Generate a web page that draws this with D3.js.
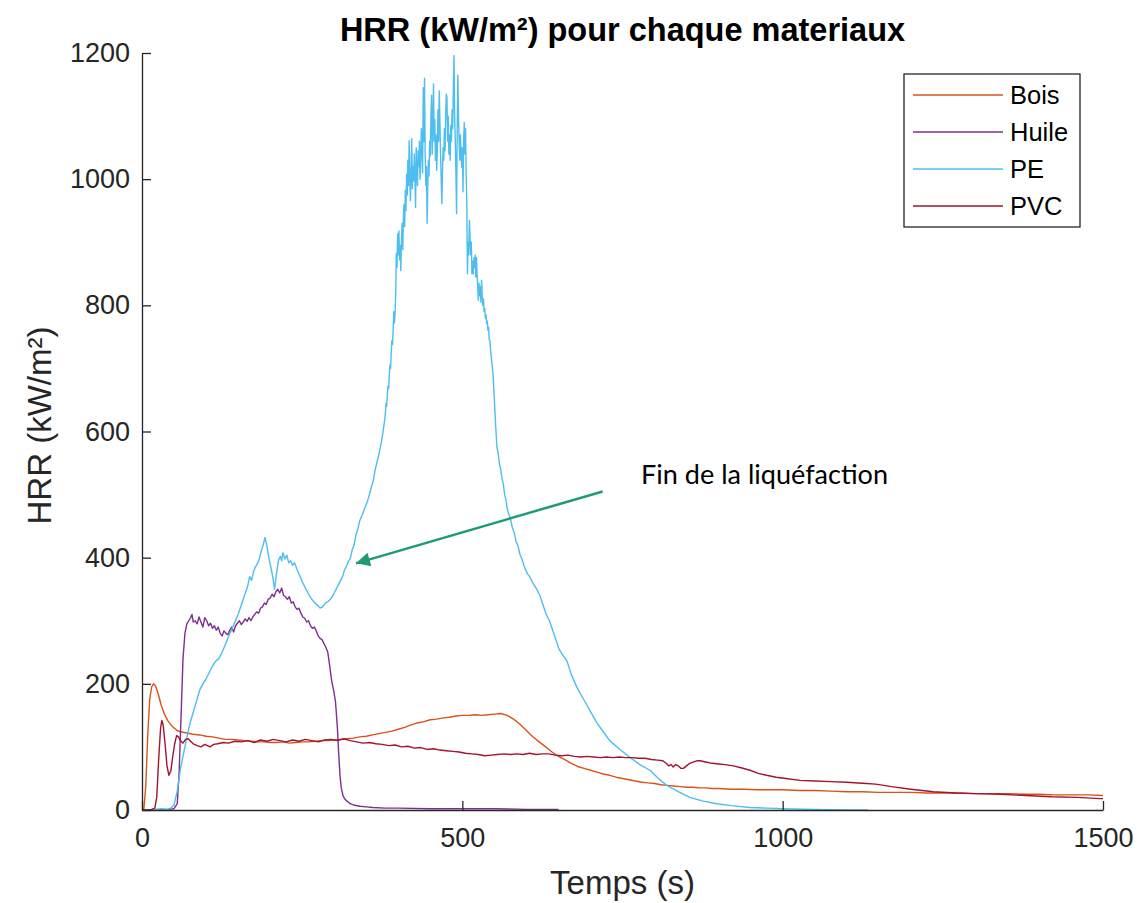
<!DOCTYPE html>
<html>
<head>
<meta charset="utf-8">
<script src="https://cdn.jsdelivr.net/npm/d3@7"></script>
<style>
  html, body { margin: 0; padding: 0; background: #fff; }
  svg { display: block; }
</style>
</head>
<body>
<svg id="chart" width="1139" height="903"></svg>
<script>
// Series names and colours
const seriesNames = ["Bois", "Huile", "PE", "PVC"];
const seriesColors = ["#D95319", "#7E2F8E", "#4DBEEE", "#A2142F"];

// Axis ticks
const xTicks = [0, 500, 1000, 1500];
const yTicks = [0, 200, 400, 600, 800, 1000, 1200];

// Heat release rate, [time (s), HRR (kW/m²)]
const bois = [[0,0],[3,2],[6,40],[9,120],[12,175],[15,195],[18,200],[21,197],[25,185],[30,166],[35,152],[40,142],[45,135],[50,130],[55,126],[60,124],[70,122],[80,120],[90,119],[100,117],[110,116],[120,114],[130,112],[140,112],[150,111],[160,110],[170,109],[180,108],[190,108],[200,107],[210,107],[220,108],[230,106],[240,107],[250,108],[260,108],[270,109],[280,110],[290,110],[300,111],[310,112],[320,113],[330,114],[340,116],[350,117],[360,119],[370,121],[380,123],[390,125],[400,128],[410,131],[420,135],[430,138],[440,140],[450,143],[460,144],[470,146],[480,147],[490,149],[500,150],[510,150],[520,151],[530,150],[540,151],[550,152],[560,153],[570,150],[580,144],[590,136],[600,126],[610,116],[620,108],[630,100],[640,92],[650,85],[660,80],[670,74],[680,69],[690,66],[700,63],[710,60],[720,57],[730,55],[740,52],[750,50],[760,48],[770,46],[780,44],[790,43],[800,42],[810,40],[820,39],[830,38],[840,37],[850,36],[860,36],[870,35],[880,35],[890,34],[900,34],[920,33],[940,33],[960,32],[980,32],[1000,32],[1025,31],[1050,31],[1075,30],[1100,29],[1125,29],[1150,28],[1175,28],[1200,28],[1225,27],[1250,27],[1275,27],[1300,26],[1325,26],[1350,26],[1375,25],[1400,25],[1425,24],[1450,24],[1475,24],[1500,23]];

const huile = [[0,0],[10,0],[20,0],[30,0],[40,1],[50,2],[55,10],[58,60],[61,150],[64,240],[67,280],[70,295],[73,300],[76,305],[78,310],[80,298],[83,300],[86,295],[89,306],[92,298],[95,290],[98,305],[101,300],[104,292],[107,296],[110,288],[113,292],[116,285],[119,290],[122,280],[125,276],[128,284],[131,280],[134,278],[137,285],[140,290],[143,282],[146,292],[149,296],[152,300],[155,294],[158,298],[161,303],[164,299],[167,305],[170,300],[173,306],[176,310],[179,314],[182,312],[185,320],[188,322],[191,328],[194,326],[197,334],[200,336],[203,342],[206,338],[209,346],[212,350],[215,344],[218,352],[221,340],[224,338],[227,334],[230,338],[233,328],[236,330],[239,322],[242,318],[245,320],[248,312],[251,306],[254,304],[257,298],[260,300],[263,292],[266,288],[269,290],[272,284],[275,276],[278,272],[281,270],[284,264],[287,258],[290,250],[293,228],[296,205],[299,190],[302,172],[305,130],[307,90],[309,55],[311,35],[314,22],[317,17],[320,14],[325,10],[330,8],[340,6],[350,5],[360,4],[380,3],[400,3],[450,2],[500,2],[550,2],[600,1],[650,1]];

const pe = [[0,0],[10,0],[20,1],[30,2],[40,1],[45,3],[50,8],[55,30],[60,65],[65,90],[70,115],[75,138],[80,155],[85,172],[90,190],[95,200],[100,208],[105,218],[110,228],[115,236],[120,240],[125,250],[130,262],[135,275],[140,286],[145,298],[150,310],[155,325],[160,340],[165,355],[168,370],[171,364],[174,378],[177,385],[180,390],[183,398],[186,410],[189,420],[192,432],[195,418],[198,400],[201,385],[204,370],[207,350],[210,375],[213,396],[216,402],[218,395],[220,408],[223,398],[226,404],[229,392],[232,395],[235,388],[238,392],[241,384],[244,376],[247,370],[250,362],[255,352],[260,342],[265,334],[270,328],[275,324],[278,320],[282,322],[286,328],[290,330],[294,334],[298,340],[302,348],[306,356],[310,364],[313,370],[316,380],[319,386],[322,394],[325,398],[328,412],[331,420],[334,436],[337,446],[340,459],[343,466],[346,474],[349,482],[352,490],[355,500],[358,512],[361,522],[364,540],[367,552],[370,565],[373,580],[376,598],[378,612],
  [380,630],[381,645],[382,640],[383,660],[384,672],[385,668],[386,690],[387,705],[388,700],[389,725],[390,744],[391,738],[392,760],[393,790],[394,772],[395,787],[396,820],[397,882],[398,860],[399,913],[400,880],[401,918],[402,872],[403,895],[404,855],[405,905],[406,930],[407,888],[408,940],[409,960],[410,925],[411,982],[412,950],[413,1008],[414,975],[415,1030],[416,990],[417,1061],[418,1000],[419,966],[420,1010],[421,1064],[422,985],[423,1020],[424,997],[425,1040],[426,1005],[427,955],[428,1050],[429,1012],[430,990],[431,1045],[432,1020],[433,1060],[434,1000],[435,1030],[436,1080],[437,1050],[438,1010],[439,1145],[440,1060],[441,1160],[442,1040],[443,990],[444,1020],[445,930],[446,985],[447,1030],[448,1005],[449,1060],[450,1037],[451,1100],[452,1133],[453,1040],[454,1088],[455,1151],[456,1060],[457,1095],[458,1030],[459,1070],[460,1014],[461,1050],[462,1110],[463,1060],[464,1140],[465,1090],[466,1040],[467,1000],[468,961],[469,1010],[470,1050],[471,1030],[472,1080],[473,1045],[474,1100],[475,1135],[476,1129],[477,1060],[478,1100],[479,1040],[480,1070],[481,1030],[482,1085],[483,1060],[484,1110],[485,1080],[486,1150],[487,1196],[488,1100],[489,1060],[490,1010],[491,945],[492,1080],[493,1165],[494,1100],[495,1060],[496,1030],[497,1070],[498,1040],[499,1019],[500,1050],[501,980],[502,1060],[503,1090],[504,1040],[505,1080],[506,1010],[507,960],[508,850],[509,900],[510,880],[511,935],[512,910],[513,880],[514,900],[515,850],[516,870],[517,850],[518,875],[519,860],[520,880],[521,845],[522,876],[523,850],[524,830],[525,808],[526,835],[527,815],[528,830],[529,805],[530,840],[531,815],[532,800],[533,810],[534,790],[535,795],[536,780],[537,785],[538,771],[539,775],[540,760],[541,765],[542,745],[543,744],[544,730],[545,720],
  [548,690],[550,650],[552,610],[554,575],[556,565],[558,548],[560,540],[562,525],[564,517],[566,500],[568,492],[570,478],[572,470],[575,462],[578,448],[581,440],[584,425],[587,418],[590,405],[593,398],[596,388],[599,380],[602,374],[605,370],[608,364],[611,358],[616,350],[621,340],[626,325],[631,310],[636,300],[641,285],[646,270],[651,255],[657,245],[663,237],[670,215],[679,194],[689,176],[699,158],[710,138],[720,124],[730,110],[746,96],[762,83],[777,72],[793,63],[806,50],[819,39],[837,29],[855,20],[876,14],[897,10],[920,7],[949,4],[975,3],[1000,2],[1050,1],[1100,0],[1133,0]];

const pvc = [[0,0],[10,0],[15,1],[20,3],[23,20],[26,80],[29,130],[31,142],[33,135],[36,105],[39,70],[42,55],[45,62],[48,85],[51,105],[54,118],[57,116],[60,110],[64,106],[68,112],[72,113],[76,109],[80,105],[86,102],[92,100],[98,104],[106,100],[112,104],[118,105],[127,107],[135,106],[145,109],[155,108],[165,110],[175,107],[185,111],[195,109],[205,112],[215,110],[225,108],[235,111],[245,109],[255,112],[265,110],[275,108],[285,111],[295,112],[305,110],[315,113],[325,110],[335,108],[345,106],[355,107],[365,105],[375,104],[385,102],[395,103],[405,100],[415,101],[425,98],[435,99],[445,96],[455,97],[465,95],[475,94],[485,93],[495,92],[505,90],[515,89],[525,88],[535,86],[545,87],[555,88],[565,89],[575,88],[585,89],[595,88],[605,90],[615,88],[625,89],[635,89],[645,87],[655,86],[665,87],[675,85],[685,84],[695,85],[705,84],[715,83],[725,84],[735,83],[745,84],[755,83],[765,83],[775,82],[785,82],[795,80],[805,79],[813,78],[818,74],[822,70],[826,72],[829,68],[833,72],[837,70],[841,66],[845,66],[850,70],[855,74],[860,76],[866,78],[871,78],[880,76],[890,74],[900,73],[910,72],[923,70],[935,67],[949,63],[962,58],[975,55],[990,52],[1005,50],[1027,47],[1050,46],[1075,45],[1100,44],[1131,42],[1145,41],[1170,37],[1200,33],[1235,29],[1270,27],[1300,26],[1339,25],[1380,23],[1420,21],[1460,20],[1495,18],[1500,18]];

const seriesData = [bois, huile, pe, pvc];

// Annotation: arrow from the label to the end of the liquefaction stage
const annotationText = "Fin de la liquéfaction";
const arrowFrom = [719, 505];
const arrowTo = [334, 391];
const annotationAt = [779, 516];

const svg = d3.select("#chart");
const margin = { left: 142, right: 36, top: 53, bottom: 93 };
const W = 1139, H = 903;

const x = d3.scaleLinear().domain([0, 1500]).range([margin.left, W - margin.right]);
const y = d3.scaleLinear().domain([0, 1200]).range([H - margin.bottom, margin.top]);

const axisColor = "#262626";
const fontMain = "Arial, 'Liberation Sans', Helvetica, sans-serif";

// Data lines
const line = d3.line().x(d => x(d[0])).y(d => y(d[1]));
const g = svg.append("g");
seriesData.forEach((s, i) => {
  g.append("path")
    .datum(s)
    .attr("d", line)
    .attr("fill", "none")
    .attr("stroke", seriesColors[i])
    .attr("stroke-width", 1.4)
    .attr("stroke-linejoin", "round");
});

// Axes (ticks pointing inward)
const fmt = d3.format("d");
const xAxis = d3.axisBottom(x).tickValues(xTicks).tickFormat(fmt).tickSizeInner(-9).tickSizeOuter(0).tickPadding(18);
const yAxis = d3.axisLeft(y).tickValues(yTicks).tickFormat(fmt).tickSizeInner(-9).tickSizeOuter(0).tickPadding(12);

const gx = svg.append("g").attr("transform", `translate(0,${y(0)})`).call(xAxis);
const gy = svg.append("g").attr("transform", `translate(${x(0)},0)`).call(yAxis);
[gx, gy].forEach(a => {
  a.attr("font-family", null);
  a.select(".domain").attr("stroke", axisColor).attr("stroke-width", 1.3);
  a.selectAll(".tick line").attr("stroke", axisColor).attr("stroke-width", 1.3);
  a.selectAll(".tick text")
    .attr("fill", axisColor)
    .style("font-family", fontMain)
    .style("font-size", "27px");
});

// Title and axis labels
svg.append("text")
  .attr("x", (x(0) + x(1500)) / 2).attr("y", 41)
  .attr("text-anchor", "middle")
  .style("font-family", fontMain).style("font-size", "32.5px").style("font-weight", "bold")
  .attr("fill", "#000")
  .text("HRR (kW/m²) pour chaque materiaux");

svg.append("text")
  .attr("x", (x(0) + x(1500)) / 2).attr("y", 894)
  .attr("text-anchor", "middle")
  .style("font-family", fontMain).style("font-size", "33px")
  .attr("fill", axisColor)
  .text("Temps (s)");

svg.append("text")
  .attr("transform", `translate(51,${(y(0) + y(1200)) / 2 - 6}) rotate(-90)`)
  .attr("text-anchor", "middle")
  .style("font-family", fontMain).style("font-size", "33px")
  .attr("fill", axisColor)
  .text("HRR (kW/m²)");

// Legend
const legend = svg.append("g").attr("transform", "translate(904,74)");
legend.append("rect")
  .attr("width", 176).attr("height", 153)
  .attr("fill", "#fff").attr("stroke", axisColor).attr("stroke-width", 1.3);
seriesNames.forEach((name, i) => {
  const ry = 21 + i * 37;
  legend.append("line")
    .attr("x1", 9).attr("x2", 99).attr("y1", ry).attr("y2", ry)
    .attr("stroke", seriesColors[i]).attr("stroke-width", 1.4);
  legend.append("text")
    .attr("x", 106).attr("y", ry)
    .attr("dy", "0.36em")
    .style("font-family", fontMain).style("font-size", "25.5px")
    .attr("fill", "#000")
    .text(name);
});

// Annotation
const arrowColor = "#1f9b74";
svg.append("defs").append("marker")
  .attr("id", "arrowhead")
  .attr("viewBox", "0 0 10 10")
  .attr("refX", 10).attr("refY", 5)
  .attr("markerUnits", "userSpaceOnUse")
  .attr("markerWidth", 18).attr("markerHeight", 14)
  .attr("orient", "auto")
  .append("path").attr("d", "M0,0 L10,5 L0,10 Z").attr("fill", arrowColor);

svg.append("line")
  .attr("x1", x(arrowFrom[0])).attr("y1", y(arrowFrom[1]))
  .attr("x2", x(arrowTo[0])).attr("y2", y(arrowTo[1]))
  .attr("stroke", arrowColor).attr("stroke-width", 2.5)
  .attr("marker-end", "url(#arrowhead)");

const ann = svg.append("text")
  .attr("x", x(annotationAt[0])).attr("y", y(annotationAt[1]))
  .style("font-family", "Lato, 'Open Sans', sans-serif").style("font-size", "24px")
  .attr("fill", "#000")
  .text(annotationText);
// Fit the label to its intended width
const targetW = 247;
const curW = ann.node().getComputedTextLength();
ann.style("font-size", (24 * targetW / curW).toFixed(2) + "px");
</script>
</body>
</html>
